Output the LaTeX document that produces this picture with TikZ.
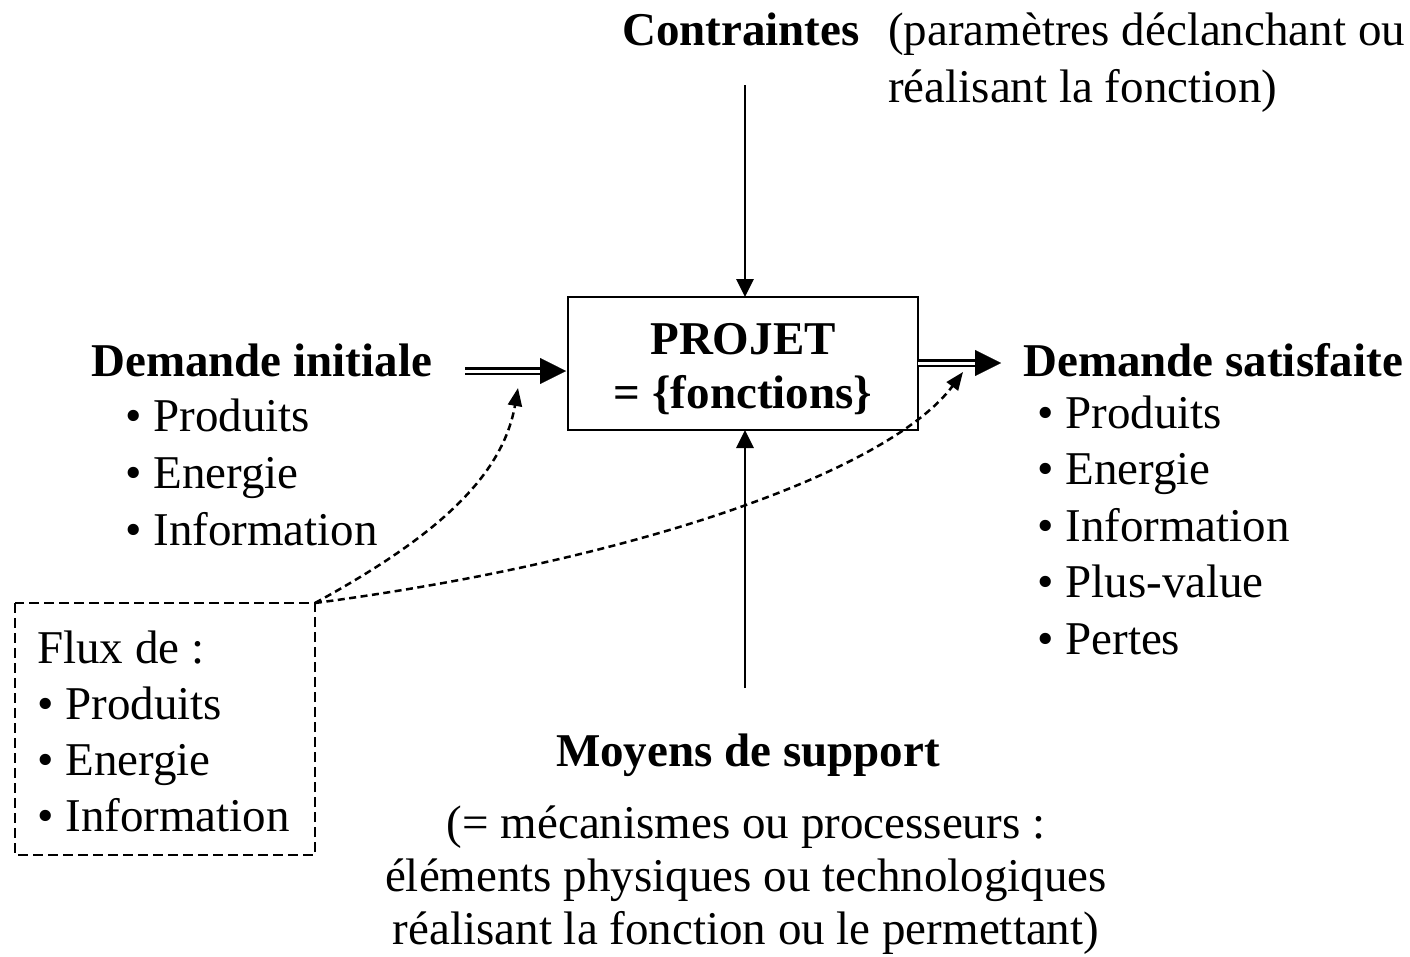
\documentclass[tikz,border=0pt]{standalone}
\usepackage{fontspec}
\setmainfont{Liberation Serif}
\usetikzlibrary{arrows.meta,calc}
\begin{document}
\begin{tikzpicture}[x=1pt,y=-1pt,
  lbl/.style={font=\fontsize{47}{57}\selectfont, inner sep=0pt, anchor=base west},
  lblc/.style={lbl, anchor=base},
  hd/.style={lbl, font=\fontsize{47}{57}\selectfont\bfseries},
  hdc/.style={hd, anchor=base},
  arr/.style={line width=2.9pt, -{Triangle[length=18pt,width=17pt]}},
  dbl/.style={double, double distance=3pt, line width=2.6pt},
  dbltip/.style={-{Triangle[length=26pt,width=26pt]}, line width=0.1pt},
  flow/.style={line width=2.5pt, dash pattern=on 7pt off 4.5pt, -{Triangle[length=18pt,width=14pt]}},
  fluxbox/.style={draw, line width=2.5pt, dash pattern=on 10pt off 5pt}]
\useasboundingbox (0,0) rectangle (1410,956);

% constraints
\node[hd] (ctr) at (622,45) {Contraintes};
\node[lbl] (ctr1) at (888,45) {(paramètres déclanchant ou};
\node[lbl] (ctr2) at (888,102) {réalisant la fonction)};

% central function box
\draw[line width=2.9pt] (568,297) rectangle (918,430);
\node[hdc] (proj) at (743,354) {PROJET};
\node[hdc] (fct) at (743,408) {= \{fonctions\}};
\coordinate (boxN) at (745,297);
\coordinate (boxS) at (745,430);
\coordinate (boxW) at (566,371);
\coordinate (boxE) at (918,363);

% input demand
\node[hd] (din) at (91,376) {Demande initiale};
\foreach \t [count=\i] in {Produits,Energie,Information}
  \node[lbl] (din\i) at (125,{374+57*\i}) {• \t};

% output demand
\node[hd] (dout) at (1023,376) {Demande satisfaite};
\foreach \t [count=\i] in {Produits,Energie,Information,Plus-value,Pertes}
  \node[lbl] (dout\i) at (1037,{371.5+56.5*\i}) {• \t};

% support means
\node[hdc] (moy) at (748,766) {Moyens de support};
\node[lblc] (moy1) at (746,838) {(= mécanismes ou processeurs :};
\node[lblc] (moy2) at (746,891) {éléments physiques ou technologiques};
\node[lblc] (moy3) at (746,944) {réalisant la fonction ou le permettant)};

% flows
\draw[fluxbox] (15,603) rectangle (315,855);
\coordinate (fluxNE) at (315,603);
\node[lbl] (flux) at (37,663) {Flux de :};
\foreach \t [count=\i] in {Produits,Energie,Information}
  \node[lbl] (flux\i) at (37,{663+56*\i}) {• \t};

% connectors
\coordinate (ctrS) at (745,85);
\coordinate (moyN) at (745,688);
\coordinate (dinE) at (465,371);
\coordinate (doutW) at (1001,363);
\draw[arr] (ctrS) -- (boxN);
\draw[arr] (moyN) -- (boxS);

\draw[dbl] (dinE) -- ($(boxW)+(-24,0)$);
\draw[dbltip] ($(boxW)+(-26,0)$) -- (boxW);
\draw[dbl] (boxE) -- ($(doutW)+(-24,0)$);
\draw[dbltip] ($(doutW)+(-26,0)$) -- (doutW);

\coordinate (inTip) at (518,388);
\coordinate (outTip) at (963,372);
\draw[flow] (fluxNE) .. controls (430,540) and (502,480) .. (inTip);
\draw[flow] (fluxNE) .. controls (640,560) and (890,470) .. (outTip);
\end{tikzpicture}
\end{document}
